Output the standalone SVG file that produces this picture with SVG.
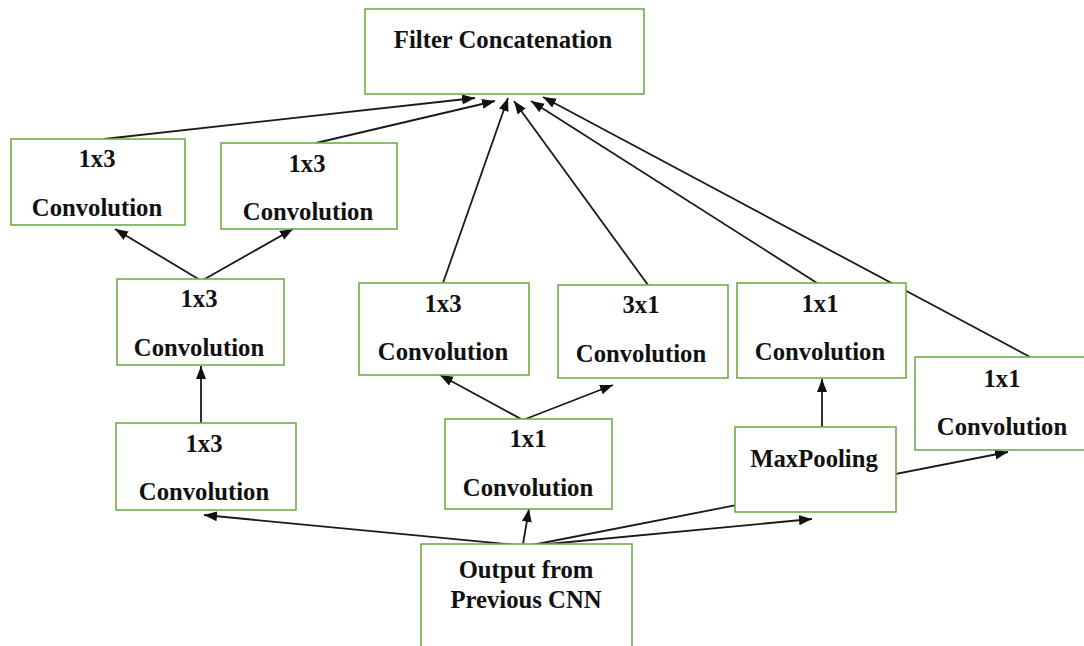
<svg xmlns="http://www.w3.org/2000/svg" width="1084" height="646" viewBox="0 0 1084 646">
  <style>
    .box { fill: #ffffff; stroke: #70ad47; stroke-width: 1.6; }
    .lbl { font-family: "Liberation Serif", "Times New Roman", serif; font-weight: bold; font-size: 24.7px; fill: #111111; text-anchor: middle; }
    .edge { stroke: #1a1a1a; stroke-width: 1.8; fill: none; marker-end: url(#arrow); }
  </style>
  <defs>
    <marker id="arrow" markerUnits="userSpaceOnUse" markerWidth="14" markerHeight="11" refX="13" refY="5" orient="auto">
      <path d="M0,0 L13,5 L0,10 z" fill="#111111"/>
    </marker>
  </defs>
  <rect width="1084" height="646" fill="#ffffff"/>

  <!-- connectors -->
  <g id="connectors">
    <line class="edge" x1="104" y1="139" x2="475" y2="98"/>
    <line class="edge" x1="316" y1="143" x2="495" y2="101"/>
    <line class="edge" x1="443" y1="283" x2="508" y2="98"/>
    <line class="edge" x1="648" y1="285" x2="514" y2="101"/>
    <line class="edge" x1="817" y1="283" x2="531" y2="101"/>
    <line class="edge" x1="1030" y1="357" x2="543" y2="97"/>
    <line class="edge" x1="200" y1="280" x2="115" y2="229"/>
    <line class="edge" x1="203" y1="280" x2="293" y2="229"/>
    <line class="edge" x1="201" y1="423" x2="201" y2="366"/>
    <line class="edge" x1="523" y1="420" x2="440" y2="375"/>
    <line class="edge" x1="523" y1="420" x2="613" y2="385"/>
    <line class="edge" x1="517" y1="545" x2="204" y2="515"/>
    <line class="edge" x1="523" y1="544" x2="529" y2="509"/>
    <line class="edge" x1="527" y1="546" x2="812" y2="519"/>
    <line class="edge" x1="527" y1="546" x2="1008" y2="452"/>
    <line class="edge" x1="822" y1="427" x2="822" y2="379"/>
  </g>

  <!-- nodes -->
  <g id="filter-concat">
    <rect class="box" x="365" y="9" width="279" height="85"/>
    <text class="lbl" x="503" y="48">Filter Concatenation</text>
  </g>
  <g id="conv-1x3-a">
    <rect class="box" x="11" y="139" width="174" height="86"/>
    <text class="lbl" x="97" y="167">1x3</text>
    <text class="lbl" x="97" y="216">Convolution</text>
  </g>
  <g id="conv-1x3-b">
    <rect class="box" x="221" y="143" width="176" height="86"/>
    <text class="lbl" x="307" y="172">1x3</text>
    <text class="lbl" x="308" y="220">Convolution</text>
  </g>
  <g id="conv-1x3-c">
    <rect class="box" x="117" y="279" width="167" height="86"/>
    <text class="lbl" x="199" y="307">1x3</text>
    <text class="lbl" x="199" y="356">Convolution</text>
  </g>
  <g id="conv-1x3-d">
    <rect class="box" x="116" y="423" width="180" height="87"/>
    <text class="lbl" x="204" y="452">1x3</text>
    <text class="lbl" x="204" y="500">Convolution</text>
  </g>
  <g id="conv-1x1-e">
    <rect class="box" x="445" y="419" width="167" height="90"/>
    <text class="lbl" x="528" y="447">1x1</text>
    <text class="lbl" x="528" y="496">Convolution</text>
  </g>
  <g id="conv-1x3-f">
    <rect class="box" x="359" y="283" width="170" height="92"/>
    <text class="lbl" x="443" y="312">1x3</text>
    <text class="lbl" x="443" y="360">Convolution</text>
  </g>
  <g id="conv-3x1-g">
    <rect class="box" x="558" y="285" width="170" height="93"/>
    <text class="lbl" x="641" y="313">3x1</text>
    <text class="lbl" x="641" y="362">Convolution</text>
  </g>
  <g id="conv-1x1-h">
    <rect class="box" x="737" y="283" width="169" height="95"/>
    <text class="lbl" x="820" y="312">1x1</text>
    <text class="lbl" x="820" y="360">Convolution</text>
  </g>
  <g id="conv-1x1-i">
    <rect class="box" x="915" y="357" width="175" height="93"/>
    <text class="lbl" x="1002" y="387">1x1</text>
    <text class="lbl" x="1002" y="435">Convolution</text>
  </g>
  <g id="maxpooling">
    <rect class="box" x="735" y="427" width="161" height="85"/>
    <text class="lbl" x="814" y="467">MaxPooling</text>
  </g>
  <g id="input">
    <rect class="box" x="421" y="544" width="211" height="110"/>
    <text class="lbl" x="526" y="578">Output from</text>
    <text class="lbl" x="526" y="608">Previous CNN</text>
  </g>
</svg>
